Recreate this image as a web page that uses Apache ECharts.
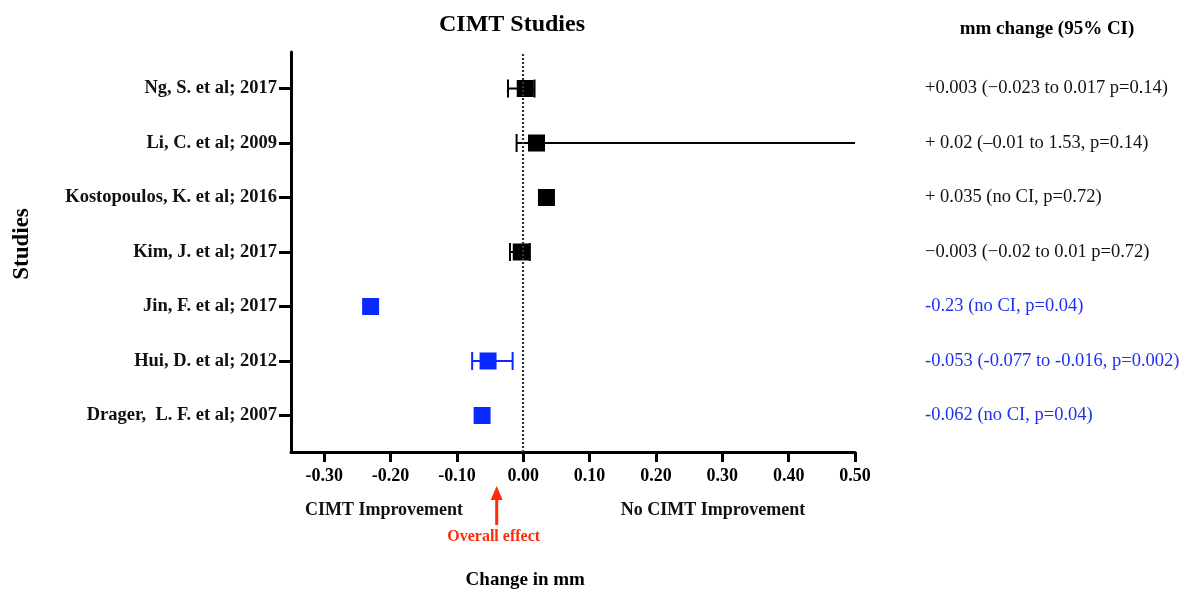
<!DOCTYPE html>
<html>
<head>
<meta charset="utf-8">
<title>CIMT Studies</title>
<script src="https://cdn.jsdelivr.net/npm/echarts@6/dist/echarts.min.js"></script>
<style>
  html, body { margin: 0; padding: 0; background: #ffffff; }
  #chart { width: 1195px; height: 596px; }
</style>
</head>
<body>
<div id="chart"></div>
<script>
// Studies, listed top to bottom
const studies = [
  'Ng, S. et al; 2017',
  'Li, C. et al; 2009',
  'Kostopoulos, K. et al; 2016',
  'Kim, J. et al; 2017',
  'Jin, F. et al; 2017',
  'Hui, D. et al; 2012',
  'Drager,  L. F. et al; 2007'
];
// mean change in CIMT (mm)
const effect = [0.003, 0.02, 0.035, -0.003, -0.23, -0.053, -0.062];
// 95% confidence interval bounds (null = not reported)
const ciLow  = [-0.023, -0.01, null, -0.02, null, -0.077, null];
const ciHigh = [0.017, 1.53, null, 0.01, null, -0.016, null];
// studies reporting a significant improvement (drawn in blue)
const improved = [false, false, false, false, true, true, true];
// summary column text
const summaryText = [
  '+0.003 (\u22120.023 to 0.017 p=0.14)',
  '+ 0.02 (\u20130.01 to 1.53, p=0.14)',
  '+ 0.035 (no CI, p=0.72)',
  '\u22120.003 (\u22120.02 to 0.01 p=0.72)',
  '-0.23 (no CI, p=0.04)',
  '-0.053 (-0.077 to -0.016, p=0.002)',
  '-0.062 (no CI, p=0.04)'
];
// x axis tick values
const xTicks = [-0.3, -0.2, -0.1, 0, 0.1, 0.2, 0.3, 0.4, 0.5];
// pooled estimate marked under the axis
const overallEffect = -0.04;

const SERIF = '"Liberation Serif", "Times New Roman", Times, serif';
const BLACK = '#000000';
const BLUE = '#0a28ff';
const BLUE_TEXT = '#1f30f0';
const RED = '#ff2a0a';

const n = studies.length;
const rowPos = studies.map((_, i) => n - i);          // top row gets the largest value
const rowTicks = rowPos.slice().reverse();

const pointData = effect.map((v, i) => ({
  value: [v, rowPos[i]],
  itemStyle: { color: improved[i] ? BLUE : BLACK, opacity: 1 }
}));
const ciData = [];
effect.forEach((v, i) => {
  if (ciLow[i] !== null) ciData.push({ value: [ciLow[i], ciHigh[i], rowPos[i]], color: improved[i] ? BLUE : BLACK });
});

const chart = echarts.init(document.getElementById('chart'), null, { renderer: 'canvas' });

const yCommon = { type: 'value', min: 0.33, max: n + 0.67, splitLine: { show: false } };

chart.setOption({
  backgroundColor: '#ffffff',
  animation: false,
  textStyle: { fontFamily: SERIF },
  title: [
    {
      text: 'CIMT Studies', left: 507, top: 8, textAlign: 'center',
      textStyle: { fontFamily: SERIF, fontWeight: 'bold', fontSize: 24, color: '#000' }
    },
    {
      text: 'mm change (95% CI)', left: 1042, top: 15, textAlign: 'center',
      textStyle: { fontFamily: SERIF, fontWeight: 'bold', fontSize: 19, color: '#000' }
    }
  ],
  grid: { left: 291, top: 52, width: 564, height: 400, containLabel: false },
  xAxis: {
    type: 'value', min: -0.35, max: 0.5,
    axisLine: { show: true, onZero: false, lineStyle: { color: '#000', width: 3 } },
    axisTick: { show: true, customValues: xTicks, length: 10, lineStyle: { color: '#000', width: 3 } },
    axisLabel: {
      customValues: xTicks, margin: 15,
      formatter: v => v.toFixed(2),
      fontFamily: SERIF, fontWeight: 'bold', fontSize: 18, color: '#000'
    },
    splitLine: { show: false }
  },
  yAxis: [
    Object.assign({}, yCommon, {
      position: 'left',
      axisLine: { show: true, onZero: false, lineStyle: { color: '#000', width: 3 } },
      axisTick: { show: true, customValues: rowTicks, length: 12, lineStyle: { color: '#000', width: 3 } },
      axisLabel: {
        customValues: rowTicks, margin: 14,
        formatter: v => studies[n - v],
        fontFamily: SERIF, fontWeight: 'bold', fontSize: 18.5, color: '#111'
      }
    }),
    Object.assign({}, yCommon, {
      position: 'right',
      axisLine: { show: false, onZero: false },
      axisTick: { show: false },
      axisLabel: {
        customValues: rowTicks, margin: 70, align: 'left',
        formatter: v => {
          const i = n - v;
          return (improved[i] ? '{b|' : '{k|') + summaryText[i] + '}';
        },
        rich: {
          k: { fontFamily: SERIF, fontSize: 18.5, color: '#111' },
          b: { fontFamily: SERIF, fontSize: 18.5, color: BLUE_TEXT }
        }
      }
    })
  ],
  series: [
    {
      name: 'CI',
      type: 'custom',
      clip: true,
      z: 2,
      data: ciData,
      renderItem: (params, api) => {
        const y = api.value(2);
        const p1 = api.coord([api.value(0), y]);
        const p2 = api.coord([api.value(1), y]);
        const color = ciData[params.dataIndex].color;
        const cap = 9;
        const style = { stroke: color, lineWidth: 2 };
        return {
          type: 'group',
          children: [
            { type: 'line', shape: { x1: p1[0], y1: p1[1], x2: p2[0], y2: p2[1] }, style },
            { type: 'line', shape: { x1: p1[0], y1: p1[1] - cap, x2: p1[0], y2: p1[1] + cap }, style },
            { type: 'line', shape: { x1: p2[0], y1: p2[1] - cap, x2: p2[0], y2: p2[1] + cap }, style }
          ]
        };
      }
    },
    {
      name: 'Effect',
      type: 'scatter',
      symbol: 'rect',
      symbolSize: 17,
      z: 3,
      itemStyle: { opacity: 1 },
      data: pointData,
      markLine: {
        silent: true,
        symbol: ['none', 'none'],
        label: { show: false },
        lineStyle: { color: '#333', width: 2.2, type: [2, 2] },
        data: [{ xAxis: 0 }]
      }
    }
  ]
});

// axis titles and annotations beneath the x axis
const axisY = chart.convertToPixel({ yAxisIndex: 0 }, 0.33);
const arrowX = chart.convertToPixel({ xAxisIndex: 0 }, overallEffect);
const zeroX = chart.convertToPixel({ xAxisIndex: 0 }, 0);
chart.setOption({
  graphic: [
    {
      type: 'text', silent: true,
      position: [22, 244], rotation: Math.PI / 2,
      style: { text: 'Studies', x: 0, y: 0, align: 'center', verticalAlign: 'middle',
        font: 'bold 23px ' + SERIF, fill: '#000' }
    },
    {
      type: 'text', silent: true,
      position: [zeroX + 2, 580],
      style: { text: 'Change in mm', x: 0, y: 0, align: 'center', verticalAlign: 'middle',
        font: 'bold 19px ' + SERIF, fill: '#000' }
    },
    {
      type: 'text', silent: true,
      position: [384, 510],
      style: { text: 'CIMT Improvement', x: 0, y: 0, align: 'center', verticalAlign: 'middle',
        font: 'bold 18px ' + SERIF, fill: '#111' }
    },
    {
      type: 'text', silent: true,
      position: [713, 510],
      style: { text: 'No CIMT Improvement', x: 0, y: 0, align: 'center', verticalAlign: 'middle',
        font: 'bold 18px ' + SERIF, fill: '#111' }
    },
    {
      type: 'line', silent: true,
      shape: { x1: arrowX, y1: axisY + 73, x2: arrowX, y2: axisY + 45 },
      style: { stroke: RED, lineWidth: 3 }
    },
    {
      type: 'polygon', silent: true,
      shape: { points: [[arrowX, axisY + 34], [arrowX - 6, axisY + 48], [arrowX + 6, axisY + 48]] },
      style: { fill: RED }
    },
    {
      type: 'text', silent: true,
      position: [arrowX - 3, axisY + 85],
      style: { text: 'Overall effect', x: 0, y: 0, align: 'center', verticalAlign: 'middle',
        font: 'bold 16px ' + SERIF, fill: RED }
    }
  ]
});
</script>
</body>
</html>
